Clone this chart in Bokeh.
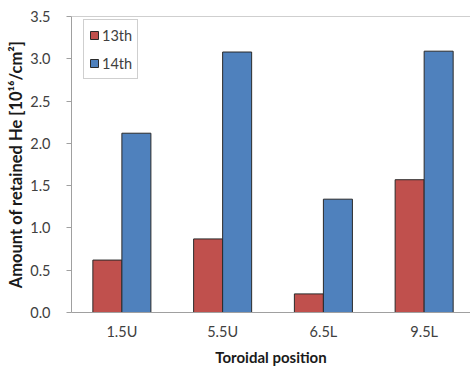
from bokeh.plotting import figure
from bokeh.models import Range1d, FixedTicker, Span, Legend, LegendItem, ColumnDataSource, NumeralTickFormatter
from bokeh.embed import file_html
from bokeh.resources import INLINE

positions = ["1.5U", "5.5U", "6.5L", "9.5L"]
he_13th = [0.62, 0.87, 0.22, 1.57]
he_14th = [2.12, 3.08, 1.34, 3.09]
y_ticks = [0.0, 0.5, 1.0, 1.5, 2.0, 2.5, 3.0, 3.5]

RED = "#C0504D"
BLUE = "#4F81BD"
FONT = "Lato"

xs = list(range(len(positions)))
bw = 0.288
src = ColumnDataSource(dict(
    x13=[x - bw / 2 for x in xs],
    x14=[x + bw / 2 for x in xs],
    v13=he_13th,
    v14=he_14th,
))

p = figure(width=470, height=368, output_backend="svg", toolbar_location=None,
           x_range=Range1d(-0.5, 3.46), y_range=Range1d(0, 3.5),
           min_border_left=71, min_border_right=0, min_border_top=16, min_border_bottom=55)
p.outline_line_color = None
p.xgrid.visible = False
p.ygrid.visible = False

r13 = p.vbar(x="x13", top="v13", width=bw, bottom=0, source=src,
             fill_color=RED, line_color="#2a2a2a", line_width=1)
r14 = p.vbar(x="x14", top="v14", width=bw, bottom=0, source=src,
             fill_color=BLUE, line_color="#2a2a2a", line_width=1)

p.add_layout(Span(location=3.5, dimension="width", line_color="#a0a0a0", line_width=1))

# x axis
p.xaxis.ticker = FixedTicker(ticks=xs)
p.xaxis.major_label_overrides = {i: lab for i, lab in enumerate(positions)}
p.xaxis.major_tick_in = 0
p.xaxis.major_tick_out = 0
p.xaxis.minor_tick_in = 0
p.xaxis.minor_tick_out = 0
p.xaxis.axis_line_color = "#a0a0a0"
p.xaxis.major_label_text_font = FONT
p.xaxis.major_label_text_font_size = "14.5px"
p.xaxis.major_label_text_color = "#404040"
p.xaxis.major_label_standoff = 10
p.xaxis.axis_label = "Toroidal position"
p.xaxis.axis_label_text_font = FONT
p.xaxis.axis_label_text_font_style = "bold"
p.xaxis.axis_label_text_font_size = "15px"
p.xaxis.axis_label_text_color = "#1a1a1a"
p.xaxis.axis_label_standoff = 5

# y axis
p.yaxis.ticker = FixedTicker(ticks=y_ticks)
p.yaxis.formatter = NumeralTickFormatter(format="0.0")
p.yaxis.major_tick_in = 0
p.yaxis.major_tick_out = 5
p.yaxis.minor_tick_in = 0
p.yaxis.minor_tick_out = 0
p.yaxis.axis_line_color = "#a0a0a0"
p.yaxis.major_tick_line_color = "#a0a0a0"
p.yaxis.major_label_text_font = FONT
p.yaxis.major_label_text_font_size = "14.5px"
p.yaxis.major_label_text_color = "#404040"
p.yaxis.major_label_standoff = 16
p.yaxis.axis_label = "Amount of retained He [10¹⁶/cm²]"
p.yaxis.axis_label_text_font = FONT
p.yaxis.axis_label_text_font_style = "bold"
p.yaxis.axis_label_text_font_size = "16.5px"
p.yaxis.axis_label_text_color = "#1a1a1a"
p.yaxis.axis_label_standoff = 1

legend = Legend(items=[LegendItem(label="13th", renderers=[r13]),
                       LegendItem(label="14th", renderers=[r14])],
                location=(12, 233))
legend.border_line_color = "#a0a0a0"
legend.border_line_width = 1
legend.label_text_font = FONT
legend.label_text_font_size = "14.5px"
legend.label_text_color = "#404040"
legend.glyph_width = 10
legend.glyph_height = 10
legend.label_height = 20
legend.label_standoff = 3
legend.spacing = 8
legend.padding = 5
legend.margin = 0
p.add_layout(legend)

open("out.html", "w").write(file_html(p, INLINE))
